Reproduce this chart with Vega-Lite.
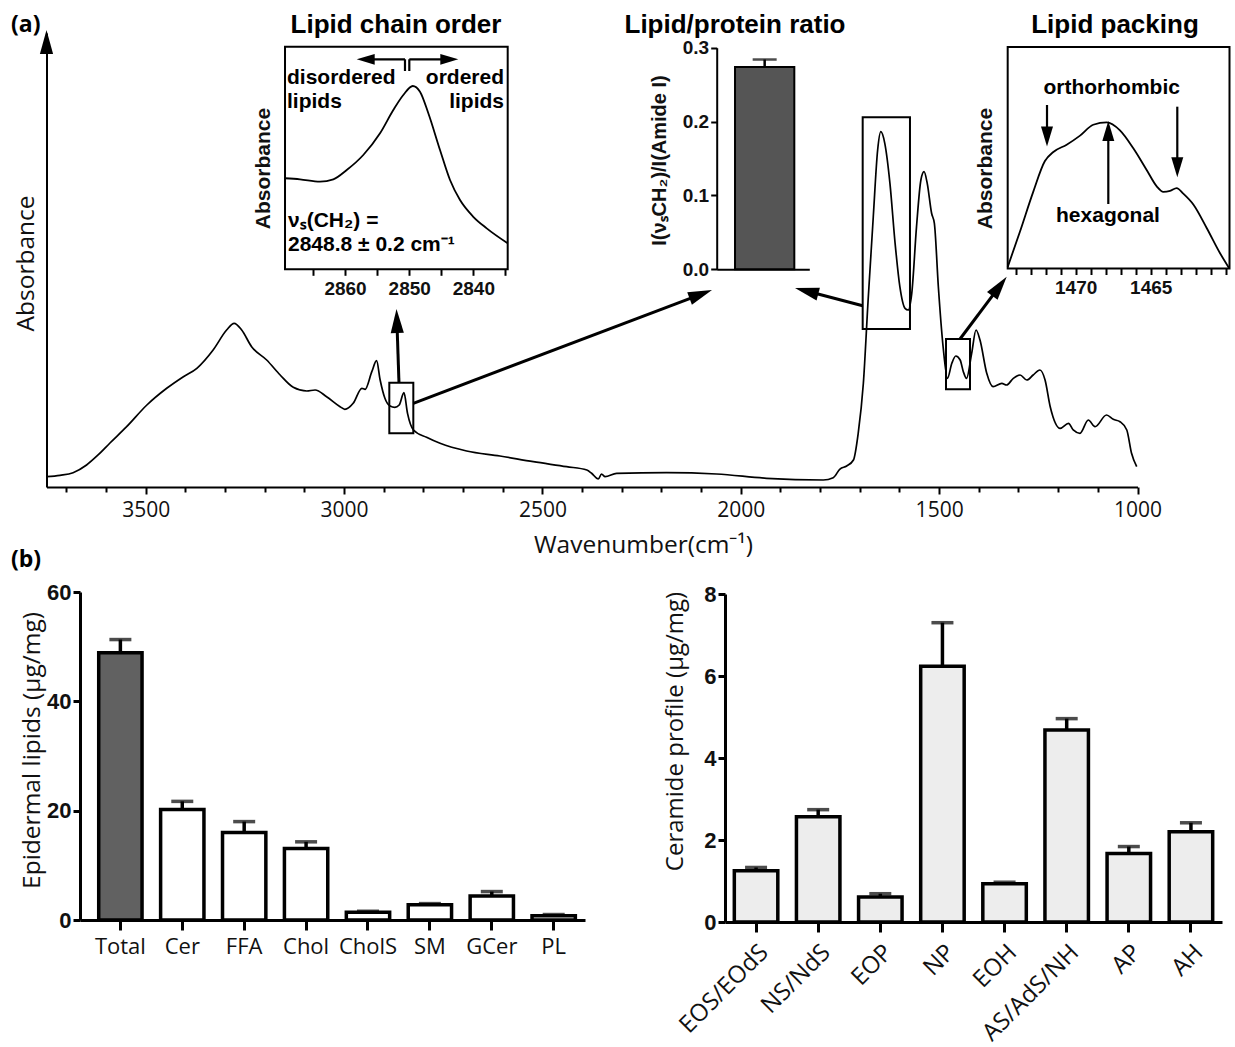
{
  "$schema": "https://vega.github.io/schema/vega-lite/v6.json",
  "width": 1235,
  "height": 1047,
  "autosize": "none",
  "padding": 0,
  "background": "white",
  "config": {
    "view": {"stroke": null},
    "axis": {"grid": false, "labelFlush": false, "labelOverlap": false, "domainColor": "black", "tickColor": "black", "labelColor": "#111", "titleColor": "#111"}
  },
  "datasets": {
    "spectrum": [
      {"wn":3749.5,"abs":0.0227},{"wn":3716,"abs":0.0258},{"wn":3683,"abs":0.0315},{"wn":3649,"abs":0.0485},{"wn":3620,"abs":0.0705},{"wn":3590,"abs":0.0969},{"wn":3548,"abs":0.1328},{"wn":3497,"abs":0.1806},{"wn":3447,"abs":0.2174},{"wn":3405,"abs":0.243},{"wn":3371,"abs":0.2615},{"wn":3330,"abs":0.3018},{"wn":3296,"abs":0.3458},{"wn":3277,"abs":0.3606},{"wn":3258,"abs":0.3458},{"wn":3233,"abs":0.309},{"wn":3195,"abs":0.2797},{"wn":3161,"abs":0.2467},{"wn":3128,"abs":0.2196},{"wn":3094,"abs":0.2115},{"wn":3073,"abs":0.2137},{"wn":3044,"abs":0.1989},{"wn":3010,"abs":0.1769},{"wn":2998,"abs":0.1711},{"wn":2977,"abs":0.1844},{"wn":2955,"abs":0.2174},{"wn":2947,"abs":0.2152},{"wn":2930,"abs":0.254},{"wn":2918,"abs":0.2782},{"wn":2909,"abs":0.2357},{"wn":2897,"abs":0.1954},{"wn":2884,"abs":0.1784},{"wn":2872,"abs":0.1756},{"wn":2861,"abs":0.1806},{"wn":2849,"abs":0.2077},{"wn":2840,"abs":0.1623},{"wn":2825,"abs":0.1256},{"wn":2792,"abs":0.1095},{"wn":2758,"abs":0.0963},{"wn":2691,"abs":0.0793},{"wn":2607,"abs":0.0683},{"wn":2523,"abs":0.0557},{"wn":2439,"abs":0.0447},{"wn":2388,"abs":0.0374},{"wn":2376,"abs":0.0302},{"wn":2359,"abs":0.0176},{"wn":2351,"abs":0.0286},{"wn":2342,"abs":0.0227},{"wn":2313,"abs":0.0302},{"wn":2187,"abs":0.0315},{"wn":2061,"abs":0.0286},{"wn":1935,"abs":0.0192},{"wn":1792,"abs":0.0154},{"wn":1767,"abs":0.0205},{"wn":1750,"abs":0.0396},{"wn":1733,"abs":0.0463},{"wn":1716,"abs":0.0595},{"wn":1704,"abs":0.1183},{"wn":1691,"abs":0.2284},{"wn":1679,"abs":0.4119},{"wn":1666,"abs":0.5954},{"wn":1655,"abs":0.7423},{"wn":1647,"abs":0.7826},{"wn":1637,"abs":0.757},{"wn":1624,"abs":0.6689},{"wn":1611,"abs":0.5368},{"wn":1599,"abs":0.4412},{"wn":1586,"abs":0.3936},{"wn":1578,"abs":0.3899},{"wn":1569,"abs":0.4267},{"wn":1557,"abs":0.5734},{"wn":1546,"abs":0.6762},{"wn":1538,"abs":0.6945},{"wn":1530,"abs":0.6689},{"wn":1519,"abs":0.6029},{"wn":1512,"abs":0.5808},{"wn":1502,"abs":0.4412},{"wn":1490,"abs":0.309},{"wn":1479,"abs":0.2394},{"wn":1468,"abs":0.2725},{"wn":1458,"abs":0.2885},{"wn":1447,"abs":0.2797},{"wn":1439,"abs":0.254},{"wn":1431,"abs":0.2394},{"wn":1418,"abs":0.2945},{"wn":1407,"abs":0.3458},{"wn":1397,"abs":0.3238},{"wn":1380,"abs":0.2504},{"wn":1364,"abs":0.2209},{"wn":1342,"abs":0.2284},{"wn":1330,"abs":0.2247},{"wn":1313,"abs":0.2394},{"wn":1296,"abs":0.2467},{"wn":1279,"abs":0.2357},{"wn":1263,"abs":0.2467},{"wn":1246,"abs":0.2577},{"wn":1233,"abs":0.2357},{"wn":1220,"abs":0.1769},{"wn":1195,"abs":0.1293},{"wn":1174,"abs":0.1403},{"wn":1162,"abs":0.1256},{"wn":1145,"abs":0.1183},{"wn":1124,"abs":0.1476},{"wn":1107,"abs":0.1328},{"wn":1078,"abs":0.1586},{"wn":1061,"abs":0.1491},{"wn":1044,"abs":0.1438},{"wn":1027,"abs":0.1256},{"wn":1015,"abs":0.0742},{"wn":1002,"abs":0.0447}
    ],
    "chain": [
      {"wn":2869.36,"abs":0.409},{"wn":2867.02,"abs":0.404},{"wn":2863.9,"abs":0.3935},{"wn":2861.83,"abs":0.404},{"wn":2859.74,"abs":0.446},{"wn":2857.16,"abs":0.5135},{"wn":2854.55,"abs":0.611},{"wn":2852.48,"abs":0.7156},{"wn":2850.92,"abs":0.783},{"wn":2849.45,"abs":0.8235},{"wn":2848.32,"abs":0.798},{"wn":2847.02,"abs":0.701},{"wn":2845.2,"abs":0.536},{"wn":2843.64,"abs":0.401},{"wn":2842.08,"abs":0.311},{"wn":2840.01,"abs":0.236},{"wn":2837.92,"abs":0.184},{"wn":2834.65,"abs":0.117}
    ],
    "packing": [
      {"wn":1474.53,"abs":0.007},{"wn":1473.71,"abs":0.167},{"wn":1472.83,"abs":0.346},{"wn":1472.05,"abs":0.485},{"wn":1471.49,"abs":0.526},{"wn":1470.6,"abs":0.559},{"wn":1469.71,"abs":0.6},{"wn":1468.83,"abs":0.649},{"wn":1467.93,"abs":0.66},{"wn":1467.05,"abs":0.624},{"wn":1466.16,"abs":0.543},{"wn":1465.27,"abs":0.445},{"wn":1464.6,"abs":0.371},{"wn":1464.16,"abs":0.346},{"wn":1463.71,"abs":0.35},{"wn":1463.27,"abs":0.363},{"wn":1462.83,"abs":0.338},{"wn":1462.16,"abs":0.289},{"wn":1461.27,"abs":0.183},{"wn":1460.38,"abs":0.069},{"wn":1459.76,"abs":0.0}
    ],
    "boxes": [
      {"x1":2885.9,"x2":2825.4,"y1":0.1183,"y2":0.2297},
      {"x1":1692.7,"x2":1573.5,"y1":0.348,"y2":0.8143},
      {"x1":1482.7,"x2":1422.2,"y1":0.2152,"y2":0.326},
      {"x1":3148.8,"x2":2587.5,"y1":0.4795,"y2":0.9698},
      {"x1":1327.2,"x2":768.1,"y1":0.4813,"y2":0.9692}
    ],
    "arrows_main": [
      {"x1":2861.5,"y1":0.2291,"x2":2866.8,"y2":0.3656},
      {"x1":2825.4,"y1":0.1844,"x2":2100.7,"y2":0.4244},
      {"x1":1692.7,"y1":0.3993,"x2":1834.1,"y2":0.4317},
      {"x1":1447.4,"y1":0.326,"x2":1347.9,"y2":0.4421}
    ],
    "heads_main": [
      {"x":2867.8,"y":0.3921,"angle":-1.9},
      {"x":2072.5,"y":0.4339,"angle":69.2},
      {"x":1863.3,"y":0.4383,"angle":-75.3},
      {"x":1329.7,"y":0.4632,"angle":36.9},
      {"x":3750,"y":1.0066,"angle":0}
    ],
    "arrows_inset": [
      {"x1":2846.4,"y1":0.9421,"x2":2945.4,"y2":0.9421},
      {"x1":2846.4,"y1":0.9421,"x2":2846.4,"y2":0.9163},
      {"x1":2835.5,"y1":0.9421,"x2":2734.7,"y2":0.9421},
      {"x1":2835.5,"y1":0.9421,"x2":2835.5,"y2":0.9163},
      {"x1":1228.1,"y1":0.8414,"x2":1228.1,"y2":0.772},
      {"x1":899.7,"y1":0.8377,"x2":899.7,"y2":0.7042},
      {"x1":1073.6,"y1":0.6233,"x2":1073.6,"y2":0.7841}
    ],
    "heads_chain": [
      {"x":2968.1,"y":0.9421,"angle":-90},
      {"x":2712.0,"y":0.9421,"angle":90}
    ],
    "heads_packing": [
      {"x":1228.1,"y":0.75,"angle":180},
      {"x":899.7,"y":0.6822,"angle":180},
      {"x":1073.6,"y":0.8062,"angle":0}
    ],
    "panel_labels": [
      {"x":3839.5,"y":1.0176,"text":"(a)"},
      {"x":3839.5,"y":-0.1608,"text":"(b)"}
    ],
    "titles": [
      {"x":2869.05,"y":1.0176,"text":"Lipid chain order"},
      {"x":2014.56,"y":1.0176,"text":"Lipid/protein ratio"},
      {"x":1056.73,"y":1.0176,"text":"Lipid packing"}
    ],
    "notes_left": [
      {"x":3143.8,"y":0.9009,"text":"disordered"},
      {"x":3143.8,"y":0.848,"text":"lipids"},
      {"x":3141.3,"y":0.5866,"text":"νₛ(CH₂) ="},
      {"x":3141.3,"y":0.533,"text":"2848.8 ± 0.2 cm⁻¹"}
    ],
    "notes_right": [
      {"x":2596.8,"y":0.9009,"text":"ordered"},
      {"x":2596.8,"y":0.848,"text":"lipids"}
    ],
    "notes_center": [
      {"x":1065.05,"y":0.8789,"text":"orthorhombic"},
      {"x":1074.4,"y":0.5969,"text":"hexagonal"}
    ],
    "ratio": [{"group":"ratio","value":0.274,"upper":0.284}],
    "lipids": [
      {"class":"Total","value":48.9,"upper":51.3},
      {"class":"Cer","value":20.2,"upper":21.7},
      {"class":"FFA","value":16.0,"upper":18.0},
      {"class":"Chol","value":13.1,"upper":14.3},
      {"class":"CholS","value":1.4,"upper":1.6},
      {"class":"SM","value":2.8,"upper":3.0},
      {"class":"GCer","value":4.4,"upper":5.2},
      {"class":"PL","value":0.8,"upper":1.0}
    ],
    "ceramides": [
      {"class":"EOS/EOdS","value":1.25,"upper":1.33},
      {"class":"NS/NdS","value":2.57,"upper":2.74},
      {"class":"EOP","value":0.61,"upper":0.69},
      {"class":"NP","value":6.24,"upper":7.3},
      {"class":"EOH","value":0.93,"upper":0.97},
      {"class":"AS/AdS/NH","value":4.68,"upper":4.96},
      {"class":"AP","value":1.67,"upper":1.84},
      {"class":"AH","value":2.2,"upper":2.42}
    ]
  },
  "resolve": {"scale": {"x": "independent", "y": "independent"}, "axis": {"x": "independent", "y": "independent"}},
  "layer": [
    {
      "data": {"name": "spectrum"},
      "mark": {"type": "line", "color": "black", "strokeWidth": 1.7, "interpolate": "monotone"},
      "encoding": {
        "x": {"field": "wn", "type": "quantitative",
          "scale": {"domain": [3750, 1000], "range": [46.5, 1137.5], "nice": false, "zero": false},
          "axis": {"orient": "bottom", "offset": -560,
            "values": [3700,3600,3500,3400,3300,3200,3100,3000,2900,2800,2700,2600,2500,2400,2300,2200,2100,2000,1900,1800,1700,1600,1500,1400,1300,1200,1100,1000],
            "format": "d", "labelExpr": "datum.value % 500 === 0 ? datum.label : ''",
            "tickSize": {"condition": {"test": "datum.value % 500 === 0", "value": 7}, "value": 5},
            "tickWidth": 2, "domainWidth": 2, "labelFont": "Open Sans", "labelFontSize": 21, "labelPadding": 5,
            "title": "Wavenumber(cm⁻¹)", "titleFont": "Open Sans", "titleFontSize": 24.5, "titleFontWeight": "normal",
            "titleX": 643, "titleY": 58, "titleBaseline": "middle", "titleAlign": "center"}},
        "y": {"field": "abs", "type": "quantitative",
          "scale": {"domain": [0, 1], "range": [487, 33], "nice": false, "zero": false},
          "axis": {"orient": "left", "offset": -46.5, "ticks": false, "labels": false, "domainWidth": 2,
            "title": "Absorbance", "titleFont": "Open Sans", "titleFontSize": 24.5, "titleFontWeight": "normal",
            "titleX": -20, "titleY": 263, "titleBaseline": "middle", "titleAlign": "center", "titleAngle": -90}}
      }
    },
    {
      "data": {"name": "boxes"},
      "mark": {"type": "rect", "fill": null, "fillOpacity": 0, "stroke": "black", "strokeWidth": 2},
      "encoding": {
        "x": {"field": "x1", "type": "quantitative", "axis": null, "scale": {"domain": [3750, 1000], "range": [46.5, 1137.5], "nice": false, "zero": false}},
        "x2": {"field": "x2"},
        "y": {"field": "y1", "type": "quantitative", "axis": null, "scale": {"domain": [0, 1], "range": [487, 33], "nice": false, "zero": false}},
        "y2": {"field": "y2"}
      }
    },
    {
      "data": {"name": "arrows_main"},
      "mark": {"type": "rule", "color": "black", "strokeWidth": 3},
      "encoding": {
        "x": {"field": "x1", "type": "quantitative", "axis": null, "scale": {"domain": [3750, 1000], "range": [46.5, 1137.5], "nice": false, "zero": false}},
        "x2": {"field": "x2"},
        "y": {"field": "y1", "type": "quantitative", "axis": null, "scale": {"domain": [0, 1], "range": [487, 33], "nice": false, "zero": false}},
        "y2": {"field": "y2"}
      }
    },
    {
      "data": {"name": "arrows_inset"},
      "mark": {"type": "rule", "color": "black", "strokeWidth": 2.2},
      "encoding": {
        "x": {"field": "x1", "type": "quantitative", "axis": null, "scale": {"domain": [3750, 1000], "range": [46.5, 1137.5], "nice": false, "zero": false}},
        "x2": {"field": "x2"},
        "y": {"field": "y1", "type": "quantitative", "axis": null, "scale": {"domain": [0, 1], "range": [487, 33], "nice": false, "zero": false}},
        "y2": {"field": "y2"}
      }
    },
    {
      "data": {"name": "heads_main"},
      "mark": {"type": "point", "shape": "M0,0L0.55,2L-0.55,2Z", "filled": true, "color": "black", "opacity": 1, "size": 576},
      "encoding": {
        "x": {"field": "x", "type": "quantitative", "axis": null, "scale": {"domain": [3750, 1000], "range": [46.5, 1137.5], "nice": false, "zero": false}},
        "y": {"field": "y", "type": "quantitative", "axis": null, "scale": {"domain": [0, 1], "range": [487, 33], "nice": false, "zero": false}},
        "angle": {"field": "angle", "type": "quantitative", "scale": null}
      }
    },
    {
      "data": {"name": "heads_chain"},
      "mark": {"type": "point", "shape": "M0,0L0.6,2L-0.6,2Z", "filled": true, "color": "black", "opacity": 1, "size": 324},
      "encoding": {
        "x": {"field": "x", "type": "quantitative", "axis": null, "scale": {"domain": [3750, 1000], "range": [46.5, 1137.5], "nice": false, "zero": false}},
        "y": {"field": "y", "type": "quantitative", "axis": null, "scale": {"domain": [0, 1], "range": [487, 33], "nice": false, "zero": false}},
        "angle": {"field": "angle", "type": "quantitative", "scale": null}
      }
    },
    {
      "data": {"name": "heads_packing"},
      "mark": {"type": "point", "shape": "M0,0L0.6,2L-0.6,2Z", "filled": true, "color": "black", "opacity": 1, "size": 400},
      "encoding": {
        "x": {"field": "x", "type": "quantitative", "axis": null, "scale": {"domain": [3750, 1000], "range": [46.5, 1137.5], "nice": false, "zero": false}},
        "y": {"field": "y", "type": "quantitative", "axis": null, "scale": {"domain": [0, 1], "range": [487, 33], "nice": false, "zero": false}},
        "angle": {"field": "angle", "type": "quantitative", "scale": null}
      }
    },
    {
      "data": {"name": "panel_labels"},
      "mark": {"type": "text", "align": "left", "baseline": "middle", "font": "Open Sans", "fontWeight": "bold", "fontSize": 23, "color": "black"},
      "encoding": {
        "x": {"field": "x", "type": "quantitative", "axis": null, "scale": {"domain": [3750, 1000], "range": [46.5, 1137.5], "nice": false, "zero": false}},
        "y": {"field": "y", "type": "quantitative", "axis": null, "scale": {"domain": [0, 1], "range": [487, 33], "nice": false, "zero": false}},
        "text": {"field": "text"}
      }
    },
    {
      "data": {"name": "titles"},
      "mark": {"type": "text", "align": "center", "baseline": "middle", "font": "Liberation Sans", "fontWeight": "bold", "fontSize": 26, "color": "black"},
      "encoding": {
        "x": {"field": "x", "type": "quantitative", "axis": null, "scale": {"domain": [3750, 1000], "range": [46.5, 1137.5], "nice": false, "zero": false}},
        "y": {"field": "y", "type": "quantitative", "axis": null, "scale": {"domain": [0, 1], "range": [487, 33], "nice": false, "zero": false}},
        "text": {"field": "text"}
      }
    },
    {
      "data": {"name": "notes_left"},
      "mark": {"type": "text", "align": "left", "baseline": "middle", "font": "Liberation Sans", "fontWeight": "bold", "fontSize": 21, "color": "black"},
      "encoding": {
        "x": {"field": "x", "type": "quantitative", "axis": null, "scale": {"domain": [3750, 1000], "range": [46.5, 1137.5], "nice": false, "zero": false}},
        "y": {"field": "y", "type": "quantitative", "axis": null, "scale": {"domain": [0, 1], "range": [487, 33], "nice": false, "zero": false}},
        "text": {"field": "text"}
      }
    },
    {
      "data": {"name": "notes_right"},
      "mark": {"type": "text", "align": "right", "baseline": "middle", "font": "Liberation Sans", "fontWeight": "bold", "fontSize": 21, "color": "black"},
      "encoding": {
        "x": {"field": "x", "type": "quantitative", "axis": null, "scale": {"domain": [3750, 1000], "range": [46.5, 1137.5], "nice": false, "zero": false}},
        "y": {"field": "y", "type": "quantitative", "axis": null, "scale": {"domain": [0, 1], "range": [487, 33], "nice": false, "zero": false}},
        "text": {"field": "text"}
      }
    },
    {
      "data": {"name": "notes_center"},
      "mark": {"type": "text", "align": "center", "baseline": "middle", "font": "Liberation Sans", "fontWeight": "bold", "fontSize": 21, "color": "black"},
      "encoding": {
        "x": {"field": "x", "type": "quantitative", "axis": null, "scale": {"domain": [3750, 1000], "range": [46.5, 1137.5], "nice": false, "zero": false}},
        "y": {"field": "y", "type": "quantitative", "axis": null, "scale": {"domain": [0, 1], "range": [487, 33], "nice": false, "zero": false}},
        "text": {"field": "text"}
      }
    },
    {
      "data": {"name": "chain"},
      "mark": {"type": "line", "color": "black", "strokeWidth": 1.8, "interpolate": "monotone"},
      "encoding": {
        "x": {"field": "wn", "type": "quantitative",
          "scale": {"domain": [2869.36, 2834.65], "range": [285, 507.7], "nice": false, "zero": false},
          "axis": {"orient": "bottom", "offset": -777.7, "values": [2865, 2860, 2855, 2850, 2845, 2840, 2835],
            "format": "d", "labelExpr": "datum.value % 10 === 0 ? datum.label : ''", "domain": false,
            "tickSize": 6, "tickWidth": 2, "labelFont": "Liberation Sans", "labelFontWeight": "bold", "labelFontSize": 19, "labelPadding": 4, "title": null}},
        "y": {"field": "abs", "type": "quantitative",
          "scale": {"domain": [0, 1], "range": [269.3, 46.7], "nice": false, "zero": false},
          "axis": {"orient": "left", "offset": -285, "ticks": false, "labels": false, "domain": false,
            "title": "Absorbance", "titleFont": "Liberation Sans", "titleFontWeight": "bold", "titleFontSize": 21,
            "titleX": -22, "titleY": 168, "titleBaseline": "middle", "titleAlign": "center", "titleAngle": -90}}
      }
    },
    {
      "data": {"name": "packing"},
      "mark": {"type": "line", "color": "black", "strokeWidth": 1.8, "interpolate": "monotone"},
      "encoding": {
        "x": {"field": "wn", "type": "quantitative",
          "scale": {"domain": [1474.53, 1459.75], "range": [1007.7, 1229.5], "nice": false, "zero": false},
          "axis": {"orient": "bottom", "offset": -778.5, "values": [1474, 1473, 1472, 1471, 1470, 1469, 1468, 1467, 1466, 1465, 1464, 1463, 1462, 1461, 1460],
            "format": "d", "labelExpr": "datum.value === 1470 || datum.value === 1465 ? datum.label : ''", "domain": false,
            "tickSize": 6, "tickWidth": 2, "labelFont": "Liberation Sans", "labelFontWeight": "bold", "labelFontSize": 19, "labelPadding": 4, "title": null}},
        "y": {"field": "abs", "type": "quantitative",
          "scale": {"domain": [0, 1], "range": [268.5, 47], "nice": false, "zero": false},
          "axis": {"orient": "left", "offset": -1007.7, "ticks": false, "labels": false, "domain": false,
            "title": "Absorbance", "titleFont": "Liberation Sans", "titleFontWeight": "bold", "titleFontSize": 21,
            "titleX": -22, "titleY": 168, "titleBaseline": "middle", "titleAlign": "center", "titleAngle": -90}}
      }
    },
    {
      "data": {"name": "ratio"},
      "mark": {"type": "rule", "color": "black", "strokeWidth": 2.5},
      "encoding": {
        "x": {"field": "group", "type": "nominal",
          "scale": {"type": "band", "domain": ["ratio"], "range": [716.7, 809.3], "paddingInner": 0, "paddingOuter": 0.2808, "align": 0.55},
          "axis": {"orient": "bottom", "offset": -777.7, "labels": false, "ticks": false, "domainWidth": 2, "title": null}},
        "y": {"field": "value", "type": "quantitative",
          "scale": {"domain": [0, 0.3], "range": [269.3, 47.7], "nice": false, "zero": false},
          "axis": {"orient": "left", "offset": -716.7, "values": [0, 0.1, 0.2, 0.3], "format": ".1f",
            "tickSize": 6, "tickWidth": 2, "domainWidth": 2, "labelFont": "Liberation Sans", "labelFontWeight": "bold", "labelFontSize": 19, "labelPadding": 2,
            "title": "I(νₛCH₂)/I(Amide I)", "titleFont": "Liberation Sans", "titleFontWeight": "bold", "titleFontSize": 20,
            "titleX": -57.7, "titleY": 160, "titleBaseline": "middle", "titleAlign": "center", "titleAngle": -90}},
        "y2": {"field": "upper"}
      }
    },
    {
      "data": {"name": "ratio"},
      "mark": {"type": "bar", "fill": "#555555", "stroke": "black", "strokeWidth": 2},
      "encoding": {
        "x": {"field": "group", "type": "nominal", "axis": null,
          "scale": {"type": "band", "domain": ["ratio"], "range": [716.7, 809.3], "paddingInner": 0, "paddingOuter": 0.2808, "align": 0.55}},
        "y": {"field": "value", "type": "quantitative", "axis": null,
          "scale": {"domain": [0, 0.3], "range": [269.3, 47.7], "nice": false, "zero": false}}
      }
    },
    {
      "data": {"name": "ratio"},
      "mark": {"type": "tick", "color": "black", "thickness": 2.5, "size": 24},
      "encoding": {
        "x": {"field": "group", "type": "nominal", "axis": null,
          "scale": {"type": "band", "domain": ["ratio"], "range": [716.7, 809.3], "paddingInner": 0, "paddingOuter": 0.2808, "align": 0.55}},
        "y": {"field": "upper", "type": "quantitative", "axis": null,
          "scale": {"domain": [0, 0.3], "range": [269.3, 47.7], "nice": false, "zero": false}}
      }
    },
    {
      "data": {"name": "lipids"},
      "mark": {"type": "rule", "color": "black", "strokeWidth": 3.5},
      "encoding": {
        "x": {"field": "class", "type": "nominal", "sort": null,
          "scale": {"type": "band", "domain": ["Total","Cer","FFA","Chol","CholS","SM","GCer","PL"], "range": [80, 585], "paddingInner": 0.3, "paddingOuter": 0.229, "align": 0.66},
          "axis": {"orient": "bottom", "offset": -127, "domainWidth": 3, "tickWidth": 3, "tickSize": 10, "labelAngle": 0,
            "labelFont": "Open Sans", "labelFontSize": 22, "labelPadding": 6, "title": null}},
        "y": {"field": "value", "type": "quantitative",
          "scale": {"domain": [0, 60], "range": [920, 592], "nice": false, "zero": false},
          "axis": {"orient": "left", "offset": -80, "values": [0, 20, 40, 60], "format": "d",
            "tickSize": 7, "tickWidth": 3, "domainWidth": 3, "labelFont": "Liberation Sans", "labelFontWeight": "bold", "labelFontSize": 22, "labelPadding": 2,
            "title": "Epidermal lipids (µg/mg)", "titleFont": "Open Sans", "titleFontWeight": "normal", "titleFontSize": 24.5,
            "titleX": -48, "titleY": 750, "titleBaseline": "middle", "titleAlign": "center", "titleAngle": -90}},
        "y2": {"field": "upper"}
      }
    },
    {
      "data": {"name": "lipids"},
      "mark": {"type": "bar", "stroke": "black", "strokeWidth": 3.5},
      "encoding": {
        "x": {"field": "class", "type": "nominal", "sort": null, "axis": null,
          "scale": {"type": "band", "domain": ["Total","Cer","FFA","Chol","CholS","SM","GCer","PL"], "range": [80, 585], "paddingInner": 0.3, "paddingOuter": 0.229, "align": 0.66}},
        "y": {"field": "value", "type": "quantitative", "axis": null,
          "scale": {"domain": [0, 60], "range": [920, 592], "nice": false, "zero": false}},
        "fill": {"condition": {"test": "datum['class'] === 'Total'", "value": "#616161"}, "value": "white"}
      }
    },
    {
      "data": {"name": "lipids"},
      "mark": {"type": "tick", "color": "black", "thickness": 3.5, "size": 22},
      "encoding": {
        "x": {"field": "class", "type": "nominal", "sort": null, "axis": null,
          "scale": {"type": "band", "domain": ["Total","Cer","FFA","Chol","CholS","SM","GCer","PL"], "range": [80, 585], "paddingInner": 0.3, "paddingOuter": 0.229, "align": 0.66}},
        "y": {"field": "upper", "type": "quantitative", "axis": null,
          "scale": {"domain": [0, 60], "range": [920, 592], "nice": false, "zero": false}}
      }
    },
    {
      "data": {"name": "ceramides"},
      "mark": {"type": "rule", "color": "black", "strokeWidth": 3.5},
      "encoding": {
        "x": {"field": "class", "type": "nominal", "sort": null,
          "scale": {"type": "band", "domain": ["EOS/EOdS","NS/NdS","EOP","NP","EOH","AS/AdS/NH","AP","AH"], "range": [725, 1222], "paddingInner": 0.3, "paddingOuter": 0.15, "align": 0.5},
          "axis": {"orient": "bottom", "offset": -125, "domainWidth": 3, "tickWidth": 3, "tickSize": 10, "labelAngle": -45, "labelAlign": "right", "labelBaseline": "top",
            "labelFont": "Open Sans", "labelFontSize": 24, "labelPadding": 8, "title": null}},
        "y": {"field": "value", "type": "quantitative",
          "scale": {"domain": [0, 8], "range": [922, 594], "nice": false, "zero": false},
          "axis": {"orient": "left", "offset": -725, "values": [0, 2, 4, 6, 8], "format": "d",
            "tickSize": 7, "tickWidth": 3, "domainWidth": 3, "labelFont": "Liberation Sans", "labelFontWeight": "bold", "labelFontSize": 22, "labelPadding": 2,
            "title": "Ceramide profile (µg/mg)", "titleFont": "Open Sans", "titleFontWeight": "normal", "titleFontSize": 24,
            "titleX": -50, "titleY": 731, "titleBaseline": "middle", "titleAlign": "center", "titleAngle": -90}},
        "y2": {"field": "upper"}
      }
    },
    {
      "data": {"name": "ceramides"},
      "mark": {"type": "bar", "fill": "#ededed", "stroke": "black", "strokeWidth": 3.5},
      "encoding": {
        "x": {"field": "class", "type": "nominal", "sort": null, "axis": null,
          "scale": {"type": "band", "domain": ["EOS/EOdS","NS/NdS","EOP","NP","EOH","AS/AdS/NH","AP","AH"], "range": [725, 1222], "paddingInner": 0.3, "paddingOuter": 0.15, "align": 0.5}},
        "y": {"field": "value", "type": "quantitative", "axis": null,
          "scale": {"domain": [0, 8], "range": [922, 594], "nice": false, "zero": false}}
      }
    },
    {
      "data": {"name": "ceramides"},
      "mark": {"type": "tick", "color": "black", "thickness": 3.5, "size": 22},
      "encoding": {
        "x": {"field": "class", "type": "nominal", "sort": null, "axis": null,
          "scale": {"type": "band", "domain": ["EOS/EOdS","NS/NdS","EOP","NP","EOH","AS/AdS/NH","AP","AH"], "range": [725, 1222], "paddingInner": 0.3, "paddingOuter": 0.15, "align": 0.5}},
        "y": {"field": "upper", "type": "quantitative", "axis": null,
          "scale": {"domain": [0, 8], "range": [922, 594], "nice": false, "zero": false}}
      }
    }
  ]
}
